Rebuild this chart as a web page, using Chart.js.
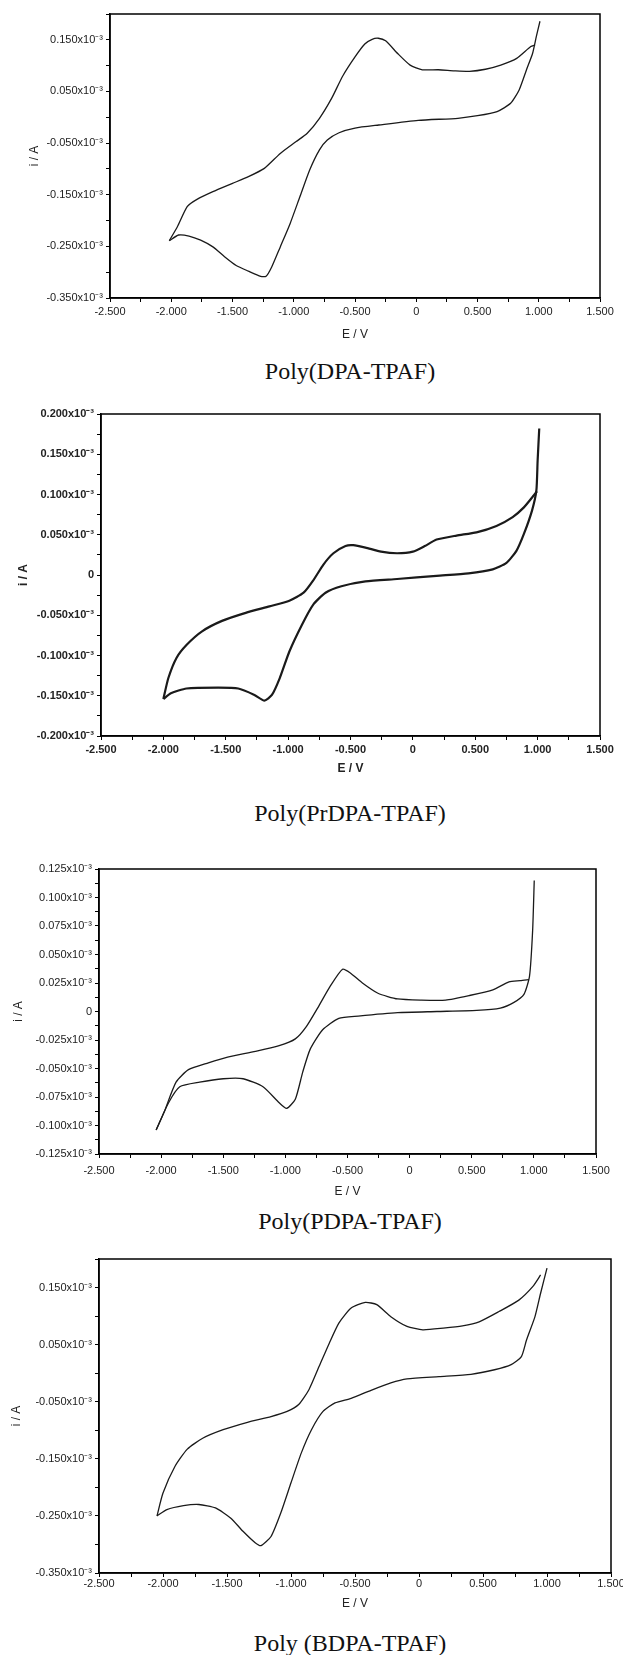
<!DOCTYPE html>
<html lang="en">
<head>
<meta charset="UTF-8">
<title>Cyclic voltammograms of the TPAF polymers</title>
<script src="https://cdn.jsdelivr.net/npm/chart.js"></script>
<style>
  html, body { margin: 0; padding: 0; background: #fff; }
  body { width: 623px; height: 1655px; position: relative; overflow: hidden; }
  canvas { position: absolute; left: 0; }
  .caption { position: absolute; left: 0; width: 700px; text-align: center;
             font-family: 'Liberation Serif', 'Times New Roman', serif; font-size: 24px;
             line-height: 30px; color: #111; }
</style>
</head>
<body>
<canvas id="cv1" width="640" height="344" style="top:0px"></canvas>
<div class="caption" style="top:356px">Poly(DPA-TPAF)</div>

<canvas id="cv2" width="640" height="378" style="top:400px"></canvas>
<div class="caption" style="top:798px">Poly(PrDPA-TPAF)</div>

<canvas id="cv3" width="640" height="346" style="top:855px"></canvas>
<div class="caption" style="top:1206px">Poly(PDPA-TPAF)</div>

<canvas id="cv4" width="640" height="368" style="top:1245px"></canvas>
<div class="caption" style="top:1628px">Poly (BDPA-TPAF)</div>

<script>
// current in units of 10^-3 A, potential in V

// Poly(DPA-TPAF)
const dpaUpperE = [-2.016, -1.95, -1.87, -1.79, -1.66, -1.50, -1.37, -1.24, -1.11, -0.98, -0.89, -0.79, -0.69, -0.60, -0.50, -0.42, -0.36, -0.31, -0.25, -0.15, -0.05, 0.05, 0.18, 0.31, 0.435, 0.565, 0.69, 0.82, 0.935, 0.97];
const dpaUpperI = [-0.239, -0.212, -0.173, -0.159, -0.144, -0.128, -0.115, -0.099, -0.070, -0.047, -0.031, -0.002, 0.037, 0.080, 0.117, 0.142, 0.151, 0.153, 0.148, 0.123, 0.101, 0.092, 0.092, 0.090, 0.089, 0.093, 0.101, 0.114, 0.137, 0.140];
const dpaLowerE = [-2.016, -1.94, -1.855, -1.76, -1.66, -1.565, -1.47, -1.37, -1.27, -1.226, -1.18, -1.11, -1.03, -0.95, -0.87, -0.79, -0.726, -0.63, -0.50, -0.306, 0.016, 0.34, 0.50, 0.66, 0.77, 0.84, 0.90, 0.95, 0.98, 1.01];
const dpaLowerI = [-0.239, -0.228, -0.230, -0.238, -0.251, -0.270, -0.287, -0.298, -0.308, -0.308, -0.290, -0.251, -0.206, -0.154, -0.102, -0.063, -0.044, -0.030, -0.021, -0.015, -0.006, -0.002, 0.003, 0.011, 0.027, 0.053, 0.092, 0.124, 0.156, 0.186];

// Poly(PrDPA-TPAF)
const prdpaUpperE = [-2.0, -1.96, -1.895, -1.815, -1.69, -1.53, -1.34, -1.15, -0.99, -0.876, -0.80, -0.717, -0.637, -0.54, -0.478, -0.38, -0.255, -0.127, 0.0, 0.096, 0.19, 0.35, 0.51, 0.67, 0.80, 0.89, 0.97, 0.995];
const prdpaUpperI = [-0.154, -0.128, -0.103, -0.087, -0.070, -0.057, -0.047, -0.039, -0.032, -0.022, -0.007, 0.013, 0.027, 0.036, 0.037, 0.034, 0.029, 0.027, 0.029, 0.036, 0.044, 0.049, 0.053, 0.061, 0.072, 0.084, 0.099, 0.104];
const prdpaLowerE = [-2.0, -1.94, -1.815, -1.56, -1.40, -1.27, -1.19, -1.13, -1.067, -0.99, -0.89, -0.80, -0.70, -0.573, -0.38, -0.127, 0.19, 0.446, 0.64, 0.75, 0.83, 0.89, 0.955, 0.99, 1.0, 1.013];
const prdpaLowerI = [-0.154, -0.147, -0.141, -0.140, -0.141, -0.149, -0.156, -0.149, -0.128, -0.095, -0.062, -0.037, -0.022, -0.014, -0.008, -0.005, -0.001, 0.002, 0.007, 0.015, 0.030, 0.051, 0.080, 0.105, 0.142, 0.182];

// Poly(PDPA-TPAF)
const pdpaUpperE = [-2.04, -1.975, -1.88, -1.78, -1.62, -1.465, -1.24, -1.05, -0.92, -0.83, -0.73, -0.64, -0.54, -0.48, -0.38, -0.255, -0.096, 0.096, 0.29, 0.48, 0.67, 0.80, 0.89, 0.96];
const pdpaUpperI = [-0.104, -0.088, -0.062, -0.051, -0.045, -0.040, -0.035, -0.030, -0.024, -0.013, 0.005, 0.022, 0.037, 0.034, 0.025, 0.016, 0.011, 0.010, 0.010, 0.014, 0.019, 0.026, 0.027, 0.028];
const pdpaLowerE = [-2.04, -1.94, -1.85, -1.69, -1.50, -1.34, -1.18, -1.05, -0.99, -0.92, -0.86, -0.80, -0.70, -0.57, -0.414, -0.096, 0.22, 0.54, 0.73, 0.84, 0.92, 0.965, 0.99, 1.003];
const pdpaLowerI = [-0.104, -0.080, -0.066, -0.062, -0.059, -0.059, -0.066, -0.080, -0.085, -0.077, -0.053, -0.033, -0.016, -0.006, -0.004, -0.001, 0.000, 0.001, 0.003, 0.008, 0.015, 0.031, 0.071, 0.115];

// Poly (BDPA-TPAF)
const bdpaUpperE = [-2.047, -2.0, -1.906, -1.81, -1.69, -1.53, -1.34, -1.156, -1.03, -0.94, -0.86, -0.78, -0.70, -0.625, -0.53, -0.42, -0.33, -0.22, -0.094, 0.03, 0.19, 0.34, 0.47, 0.625, 0.78, 0.89, 0.95];
const bdpaUpperI = [-0.250, -0.210, -0.163, -0.133, -0.114, -0.099, -0.086, -0.076, -0.067, -0.055, -0.029, 0.012, 0.053, 0.088, 0.114, 0.124, 0.120, 0.099, 0.082, 0.076, 0.079, 0.083, 0.090, 0.108, 0.128, 0.152, 0.172];
const bdpaLowerE = [-2.047, -1.97, -1.84, -1.72, -1.59, -1.47, -1.375, -1.28, -1.234, -1.156, -1.08, -1.0, -0.92, -0.84, -0.75, -0.656, -0.53, -0.375, -0.22, -0.094, 0.156, 0.406, 0.59, 0.72, 0.80, 0.84, 0.906, 0.95, 1.0];
const bdpaLowerI = [-0.250, -0.239, -0.232, -0.230, -0.236, -0.254, -0.277, -0.297, -0.302, -0.286, -0.245, -0.192, -0.140, -0.099, -0.067, -0.052, -0.044, -0.030, -0.017, -0.010, -0.006, -0.002, 0.006, 0.015, 0.029, 0.058, 0.099, 0.140, 0.184];

// axis ranges (units of 10^-3 A)
const xRange = [-2.5, 1.5];
const yRanges = [[-0.35, 0.2], [-0.2, 0.2], [-0.125, 0.125], [-0.35, 0.2]];

const tickFont = "'Liberation Sans Narrow', 'Liberation Sans', Arial, sans-serif";

function pts(es, is) {
    return es.map((e, k) => ({ x: e, y: is[k] }));
}

function xLabel(v) {
    const m = Math.round(v * 1000);
    if (m % 500 !== 0) return '';
    if (m === 0) return '0';
    return v.toFixed(3);
}

// labelled ticks sit every 'every' units (x10000) from the axis minimum
function yLabeller(min, every) {
    return function (v) {
        const m = Math.round(v * 10000);
        const base = Math.round(min * 10000);
        if ((m - base) % every !== 0) return '';
        if (m === 0) return '0';
        return v.toFixed(3) + 'x10\u207B\u00B3';
    };
}

const frame = {
    id: 'frame',
    afterDraw(chart) {
        const a = chart.chartArea, ctx = chart.ctx;
        ctx.save();
        ctx.strokeStyle = '#000';
        ctx.lineWidth = 1.5;
        ctx.strokeRect(a.left, a.top, a.right - a.left, a.bottom - a.top);
        ctx.restore();
    }
};

function panel(id, upper, lower, o) {
    const font = { family: tickFont, size: 11, weight: o.bold ? 'bold' : 'normal' };
    new Chart(document.getElementById(id), {
        type: 'scatter',
        data: {
            datasets: [
                { data: upper, showLine: true, borderColor: '#1a1a1a', borderWidth: o.lw, pointRadius: 0, tension: 0.2 },
                { data: lower, showLine: true, borderColor: '#1a1a1a', borderWidth: o.lw, pointRadius: 0, tension: 0.2 }
            ]
        },
        options: {
            responsive: false,
            animation: false,
            devicePixelRatio: 1,
            layout: { padding: o.pad },
            plugins: { legend: { display: false }, tooltip: { enabled: false } },
            scales: {
                x: {
                    type: 'linear', min: xRange[0], max: xRange[1],
                    afterFit: s => { s.height = o.xH; },
                    ticks: { stepSize: 0.25, autoSkip: false, maxRotation: 0, color: '#222', font: font, padding: o.xPad, callback: xLabel },
                    grid: { drawOnChartArea: false, tickLength: 4, color: '#000' },
                    border: { color: '#000', width: 1.5 },
                    title: { display: true, text: 'E / V', color: '#222', font: { family: tickFont, size: 12, weight: o.bold ? 'bold' : 'normal' }, padding: { top: 2, bottom: 2 } }
                },
                y: {
                    type: 'linear', min: o.yr[0], max: o.yr[1],
                    afterFit: s => { s.width = o.yW; },
                    ticks: { stepSize: o.step, autoSkip: false, color: '#222', font: font, padding: 3, callback: yLabeller(o.yr[0], o.every) },
                    grid: { drawOnChartArea: false, tickLength: 4, color: '#000' },
                    border: { color: '#000', width: 1.5 },
                    title: { display: true, text: 'i / A', color: '#222', font: { family: tickFont, size: 12, weight: o.bold ? 'bold' : 'normal' }, padding: { top: 4, bottom: 4 } }
                }
            }
        },
        plugins: [frame]
    });
}

panel('cv1', pts(dpaUpperE, dpaUpperI), pts(dpaLowerE, dpaLowerI),
      { yr: yRanges[0], step: 0.05, every: 1000, lw: 1.3, pad: { top: 14, left: 23, right: 40, bottom: 0 }, yW: 87, xH: 46, xPad: 3 });
panel('cv2', pts(prdpaUpperE, prdpaUpperI), pts(prdpaLowerE, prdpaLowerI),
      { yr: yRanges[1], step: 0.025, every: 500, lw: 2.2, bold: true, pad: { top: 14, left: 12, right: 40, bottom: 0 }, yW: 89, xH: 42, xPad: 3 });
panel('cv3', pts(pdpaUpperE, pdpaUpperI), pts(pdpaLowerE, pdpaLowerI),
      { yr: yRanges[2], step: 0.0125, every: 250, lw: 1.3, pad: { top: 14, left: 7, right: 44, bottom: 0 }, yW: 92, xH: 47, xPad: 6 });
panel('cv4', pts(bdpaUpperE, bdpaUpperI), pts(bdpaLowerE, bdpaLowerI),
      { yr: yRanges[3], step: 0.05, every: 1000, lw: 1.3, pad: { top: 14, left: 5, right: 29, bottom: 0 }, yW: 94, xH: 40, xPad: 0 });
</script>
</body>
</html>
